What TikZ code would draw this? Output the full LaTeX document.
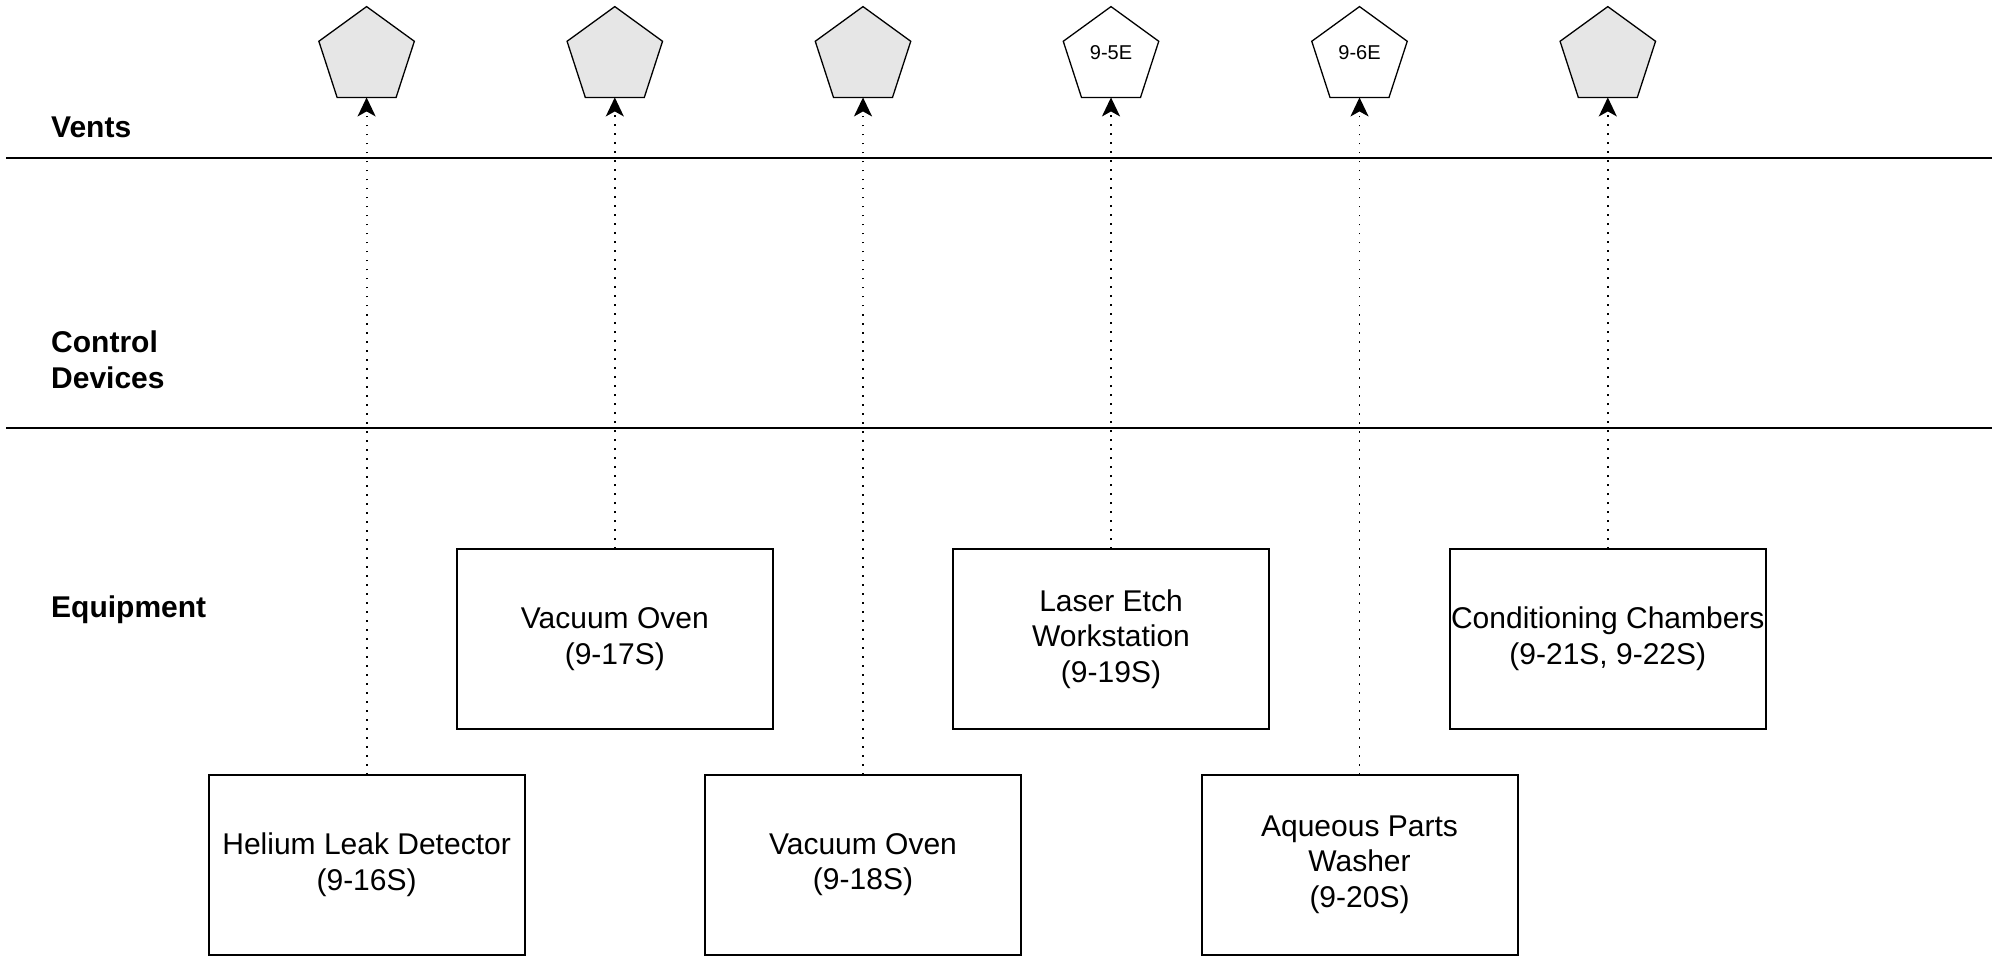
\documentclass[tikz,border=0pt]{standalone}
\usepackage{fontspec}
\setmainfont{Liberation Sans}
\usetikzlibrary{shapes.geometric,arrows.meta}
\definecolor{ventgray}{HTML}{E6E6E6}
\begin{document}
\begin{tikzpicture}[x=1pt,y=-1pt,
  vent/.style={regular polygon, regular polygon sides=5, minimum size=100.4pt,
    inner sep=0pt, outer sep=0pt, draw=black, line width=1.3pt},
  ventg/.style={vent, fill=ventgray},
  venttext/.style={inner sep=0pt, font=\fontsize{20}{24}\selectfont},
  equip/.style={draw=black, line width=2pt, minimum width=316pt, minimum height=180pt,
    inner sep=0pt, outer sep=0pt, align=center, font=\fontsize{30}{35.6}\selectfont},
  lane/.style={anchor=west, align=left, inner sep=0pt, font=\fontsize{30}{35.6}\selectfont\bfseries},
  sep/.style={line width=2pt},
  flow/.style={line width=1.8pt, dash pattern=on 1.8pt off 7.2pt,
    -{Stealth[length=19pt,width=18pt,inset=5pt]}}
]
\useasboundingbox (0,0) rectangle (1996,957);
% lanes
\coordinate (l1a) at (6,158);
\coordinate (l1b) at (1992,158);
\coordinate (l2a) at (6,428);
\coordinate (l2b) at (1992,428);
\draw[sep] (l1a) -- (l1b);
\draw[sep] (l2a) -- (l2b);
\node[lane] (lv) at (51,127) {Vents};
\node[lane] (lc) at (51,360) {Control\\Devices};
\node[lane] (le) at (51,610) {Equipment};
% vents
\node[ventg] (v1) at (366.6,56.8) {};
\node[ventg] (v2) at (614.8,56.8) {};
\node[ventg] (v3) at (863,56.8) {};
\node[vent]  (v4) at (1111,56.8) {};
\node[vent]  (v5) at (1359.5,56.8) {};
\node[ventg] (v6) at (1607.8,56.8) {};
\node[venttext] (t4) at ([yshift=4pt]v4.center) {9-5E};
\node[venttext] (t5) at ([yshift=4pt]v5.center) {9-6E};
% equipment
\node[equip] (e1) at (366.6,864.5) {Helium Leak Detector\\(9-16S)};
\node[equip] (e2) at (614.8,639) {Vacuum Oven\\(9-17S)};
\node[equip] (e3) at (863,864.5) {Vacuum Oven\\(9-18S)};
\node[equip] (e4) at (1111,639) {Laser Etch\\Workstation\\(9-19S)};
\node[equip] (e5) at (1359.5,864.5) {Aqueous Parts\\Washer\\(9-20S)};
\node[equip] (e6) at (1607.8,639) {Conditioning Chambers\\(9-21S, 9-22S)};
% flows
\foreach \i in {1,...,6}{
  \draw[flow] (e\i.north) -- (v\i.south);
}
\end{tikzpicture}
\end{document}
